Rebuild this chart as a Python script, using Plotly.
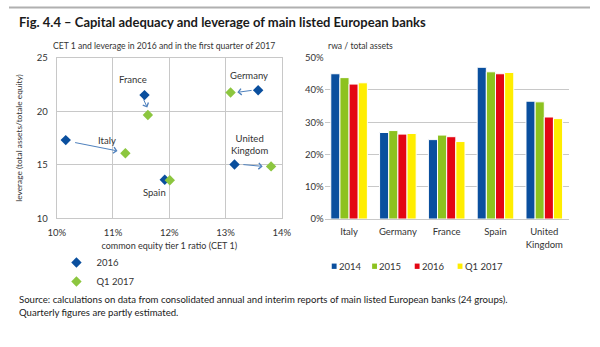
import plotly.graph_objects as go

# --- Left panel: CET1 ratio vs leverage -------------------------------------
countries = ["France", "Germany", "Italy", "United Kingdom", "Spain"]
cet1_2016 = [11.56, 13.58, 10.16, 13.16, 11.92]
lev_2016 = [21.5, 21.95, 17.3, 15.03, 13.6]
cet1_q1_2017 = [11.62, 13.09, 11.22, 13.81, 12.01]
lev_q1_2017 = [19.65, 21.75, 16.08, 14.85, 13.56]

# label anchor positions (data units)
label_x = [11.35, 13.42, 10.89, 13.42, 11.74]
label_y = [23.0, 23.35, 17.3, 16.9, 12.45]
label_text = ["France", "Germany", "Italy", "United<br>Kingdom", "Spain"]

# arrows from 2016 towards Q1 2017 (tail -> head)
arrow_from = [(10.30, 17.10), (11.53, 21.24), (13.49, 21.96), (13.29, 15.03)]
arrow_to = [(11.08, 16.29), (11.61, 20.34), (13.21, 21.76), (13.66, 14.85)]

x_ticks = [10, 11, 12, 13, 14]
x_tick_labels = ["10%", "11%", "12%", "13%", "14%"]
y_ticks = [10, 15, 20, 25]

# --- Right panel: RWA / total assets ----------------------------------------
bar_categories = ["Italy", "Germany", "France", "Spain", "United<br>Kingdom"]
rwa_2014 = [45.0, 26.8, 24.6, 47.0, 36.5]
rwa_2015 = [43.8, 27.4, 26.0, 45.6, 36.3]
rwa_2016 = [41.8, 26.3, 25.5, 45.0, 31.6]
rwa_q1_2017 = [42.2, 26.5, 24.0, 45.4, 31.1]
bar_names = ["2014", "2015", "2016", "Q1 2017"]
bar_values = [rwa_2014, rwa_2015, rwa_2016, rwa_q1_2017]
bar_colors = ["#0a4f9e", "#8dc21f", "#e30613", "#ffed00"]
pct_ticks = [0, 10, 20, 30, 40, 50]
pct_labels = ["0%", "10%", "20%", "30%", "40%", "50%"]

FONT = "Lato, Liberation Sans, sans-serif"
W, H = 600, 347
def px(x): return x / W
def py(y): return 1 - y / H

fig = go.Figure()

fig.add_trace(go.Scatter(
    x=cet1_2016, y=lev_2016, mode="markers", name="2016",
    marker=dict(symbol="diamond", size=8, color="#0a4f9e"),
    xaxis="x", yaxis="y"))
fig.add_trace(go.Scatter(
    x=cet1_q1_2017, y=lev_q1_2017, mode="markers", name="Q1 2017",
    marker=dict(symbol="diamond", size=8, color="#8cc63f"),
    xaxis="x", yaxis="y"))

for name, vals, col in zip(bar_names, bar_values, bar_colors):
    fig.add_trace(go.Bar(
        x=bar_categories, y=vals, name=name, marker_color=col,
        marker_line=dict(color="white", width=1), showlegend=False,
        xaxis="x2", yaxis="y2"))

annotations = []
shapes = [dict(type="line", xref="paper", yref="paper", x0=0, x1=1,
               y0=py(1.5), y1=py(1.5), line=dict(color="#b0b0b0", width=2))]

for t, x, y in zip(label_text, label_x, label_y):
    annotations.append(dict(x=x, y=y, xref="x", yref="y", text=t, showarrow=False,
                            font=dict(family=FONT, size=9.5, color="#333333")))
for (x0, y0), (x1, y1) in zip(arrow_from, arrow_to):
    annotations.append(dict(x=x1, y=y1, ax=x0, ay=y0, xref="x", yref="y",
                            axref="x", ayref="y", text="", showarrow=True,
                            arrowhead=4, arrowsize=1.2, arrowwidth=1,
                            arrowcolor="#4f81bd"))

# bar legend: small colour squares followed by the series name
legend_sq_x = [333.3, 375.0, 419.0, 463.3]
for name, col, sx in zip(bar_names, bar_colors, legend_sq_x):
    shapes.append(dict(type="rect", xref="paper", yref="paper",
                       x0=px(sx), x1=px(sx + 5), y0=py(271.5), y1=py(266),
                       fillcolor=col, line=dict(width=0)))
    annotations.append(dict(x=px(sx + 5.5), y=py(268.7), xref="paper", yref="paper",
                            xanchor="left", yanchor="middle", showarrow=False,
                            text=name, font=dict(family=FONT, size=9.5, color="#333333")))

annotations += [
    dict(x=px(8), y=py(17), xref="paper", yref="paper", xanchor="left",
         yanchor="middle", showarrow=False,
         text="<b>Fig. 4.4 – Capital adequacy and leverage of main listed European banks</b>",
         font=dict(family=FONT, size=13, color="#1a1a1a")),
    dict(x=px(160), y=py(41), xref="paper", yref="paper", xanchor="center",
         yanchor="middle", showarrow=False,
         text="CET 1 and leverage in 2016 and in the first quarter of 2017",
         font=dict(family=FONT, size=8.6, color="#333333")),
    dict(x=px(327), y=py(41), xref="paper", yref="paper", xanchor="left",
         yanchor="middle", showarrow=False, text="rwa / total assets",
         font=dict(family=FONT, size=8.6, color="#333333")),
    dict(x=px(8), y=py(303), xref="paper", yref="paper", xanchor="left",
         yanchor="middle", showarrow=False,
         text="Source: calculations on data from consolidated annual and interim reports of main listed European banks (24 groups).",
         font=dict(family=FONT, size=9.6, color="#1a1a1a")),
    dict(x=px(8), y=py(317), xref="paper", yref="paper", xanchor="left",
         yanchor="middle", showarrow=False,
         text="Quarterly figures are partly estimated.",
         font=dict(family=FONT, size=9.6, color="#1a1a1a")),
]

fig.update_layout(
    width=W, height=H, margin=dict(l=0, r=0, t=0, b=0),
    paper_bgcolor="white", plot_bgcolor="white",
    font=dict(family=FONT, size=9, color="#333333"),
    barmode="group", bargap=0.25, bargroupgap=0.0,
    annotations=annotations, shapes=shapes,
    xaxis=dict(domain=[px(49.3), px(281.7)], range=[10, 14], tickvals=x_ticks,
               ticktext=x_tick_labels, showgrid=True, gridcolor="#c8c8c8",
               showline=True, linecolor="#c8c8c8", mirror=True, zeroline=False,
               ticks="outside", ticklen=5, tickcolor="rgba(0,0,0,0)", anchor="y",
               title=dict(text="common equity tier 1 ratio (CET 1)",
                          font=dict(size=9), standoff=5),
               tickfont=dict(size=9.5)),
    yaxis=dict(domain=[py(219.3), py(53.3)], range=[10, 25], tickvals=y_ticks,
               showgrid=True, gridcolor="#c8c8c8", showline=True,
               linecolor="#c8c8c8", mirror=True, zeroline=False,
               ticks="outside", ticklen=6, tickcolor="rgba(0,0,0,0)", anchor="x",
               title=dict(text="leverage (total assets/totale equity)",
                          font=dict(size=8.3), standoff=12),
               tickfont=dict(size=9.5)),
    xaxis2=dict(domain=[px(326), px(578)], anchor="y2", showgrid=False,
                showline=True, linecolor="#c8c8c8",
                ticks="outside", ticklen=4, tickcolor="rgba(0,0,0,0)",
                tickfont=dict(size=9.5)),
    yaxis2=dict(domain=[py(220), py(53.3)], range=[0, 50], anchor="x2",
                tickvals=pct_ticks, ticktext=pct_labels, showgrid=True,
                gridcolor="#c8c8c8", zeroline=False, ticks="",
                tickfont=dict(size=9.5)),
    legend=dict(x=px(49), y=py(250), xanchor="left", yanchor="top",
                orientation="v", font=dict(size=9.5), itemwidth=30,
                tracegroupgap=0, bgcolor="rgba(0,0,0,0)"),
)

fig.write_html("out.html")
